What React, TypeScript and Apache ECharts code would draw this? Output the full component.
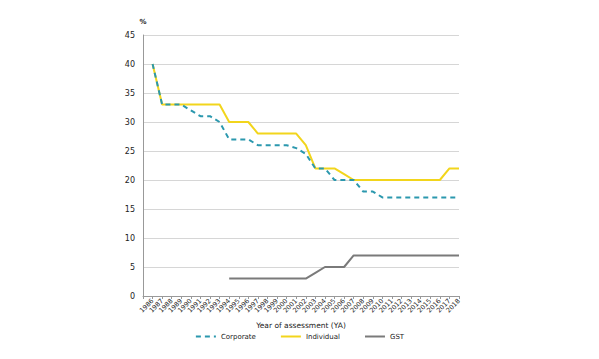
import React, { useEffect, useRef } from "react";
import * as echarts from "echarts";

const years = [
  "1986", "1987", "1988", "1989", "1990", "1991", "1992", "1993", "1994", "1995",
  "1996", "1997", "1998", "1999", "2000", "2001", "2002", "2003", "2004", "2005",
  "2006", "2007", "2008", "2009", "2010", "2011", "2012", "2013", "2014", "2015",
  "2016", "2017", "2018",
];
const corporate = [
  40, 33, 33, 33, 32, 31, 31, 30, 27, 27, 27, 26, 26, 26, 26, 25.5, 24.5, 22,
  22, 20, 20, 20, 18, 18, 17, 17, 17, 17, 17, 17, 17, 17, 17,
];
const individual = [
  40, 33, 33, 33, 33, 33, 33, 33, 30, 30, 30, 28, 28, 28, 28, 28, 26, 22, 22,
  22, 21, 20, 20, 20, 20, 20, 20, 20, 20, 20, 20, 22, 22,
];
const gst: (number | null)[] = [
  null, null, null, null, null, null, null, null, 3, 3, 3, 3, 3, 3, 3, 3, 3, 4,
  5, 5, 5, 7, 7, 7, 7, 7, 7, 7, 7, 7, 7, 7, 7,
];

// a blank leading slot sits at the y-axis so that 1986 is one step inside it
const cats = [""].concat(years);
const pad = (vals: (number | null)[]) => [null as number | null].concat(vals);

const FONT = "DejaVu Sans";

export default function App() {
  const ref = useRef<HTMLDivElement>(null);
  useEffect(() => {
    document.body.style.margin = "0";
    if (!ref.current) return;
    const chart = echarts.init(ref.current, null, { renderer: "svg" });
    chart.setOption({
      animation: false,
      textStyle: { fontFamily: FONT },
      grid: { left: 143, right: 140, top: 35, bottom: 63 },
      xAxis: {
        type: "category",
        data: cats,
        boundaryGap: false,
        name: "Year of assessment (YA)",
        nameLocation: "middle",
        nameGap: 25,
        nameTextStyle: { fontSize: 7.5, color: "#222", fontFamily: FONT },
        axisLine: { show: true, lineStyle: { color: "#999", width: 1 } },
        axisTick: { show: true, length: 3, interval: 0, lineStyle: { color: "#999" } },
        axisLabel: {
          rotate: 45,
          interval: 0,
          fontSize: 6.5,
          color: "#222",
          margin: 4,
        },
        splitLine: { show: false },
      },
      yAxis: {
        type: "value",
        min: 0,
        max: 45,
        interval: 5,
        name: "%",
        nameGap: 10,
        nameTextStyle: { fontSize: 7, color: "#222", fontWeight: "bold" },
        axisLine: { show: true, lineStyle: { color: "#999", width: 1 } },
        axisTick: { show: false },
        axisLabel: { fontSize: 8, color: "#222", margin: 8 },
        splitLine: { show: true, lineStyle: { color: "#d6d6d6", width: 1 } },
      },
      legend: {
        bottom: 14,
        left: "center",
        itemGap: 24,
        itemWidth: 20,
        itemHeight: 8,
        itemStyle: { opacity: 0 },
        textStyle: { fontSize: 7, color: "#222", fontFamily: FONT },
        data: ["Corporate", "Individual", "GST"],
      },
      series: [
        {
          name: "GST",
          type: "line",
          data: pad(gst),
          symbol: "none",
          lineStyle: { color: "#7a7a7a", width: 2 },
          itemStyle: { color: "#7a7a7a" },
          z: 2,
        },
        {
          name: "Individual",
          type: "line",
          data: pad(individual),
          symbol: "none",
          lineStyle: { color: "#f2d51c", width: 2 },
          itemStyle: { color: "#f2d51c" },
          z: 3,
        },
        {
          name: "Corporate",
          type: "line",
          data: pad(corporate),
          symbol: "none",
          lineStyle: { color: "#2b98ae", width: 2, type: [5, 4] },
          itemStyle: { color: "#2b98ae" },
          z: 4,
        },
      ],
    });
    return () => chart.dispose();
  }, []);
  return <div ref={ref} style={{ width: 599, height: 359 }} />;
}
